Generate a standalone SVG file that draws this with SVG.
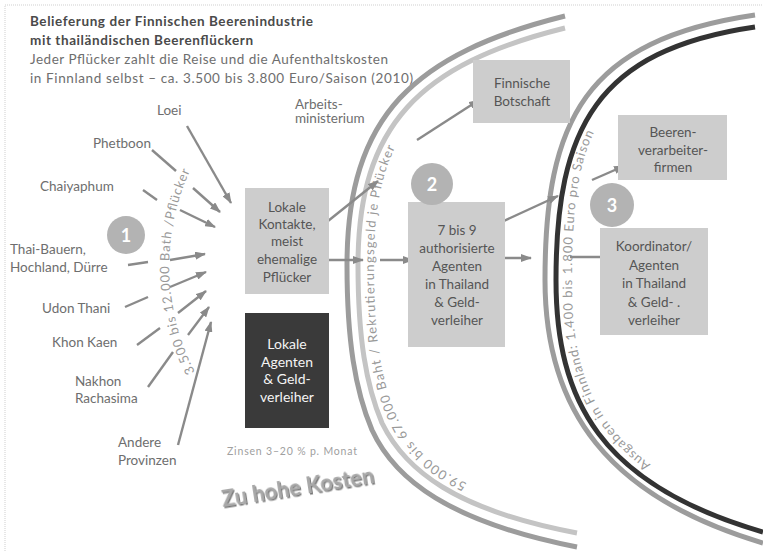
<svg xmlns="http://www.w3.org/2000/svg" width="763" height="555" viewBox="0 0 763 555">
<style>
text{font-family:Lato,"Noto Sans","DejaVu Sans",sans-serif}
.title{font-size:13.5px;font-weight:bold;fill:#4a4a4a}
.sub{font-size:13.5px;fill:#6e6e6e}
.lbl{font-size:13.5px;fill:#6e6e6e}
.box{fill:#cdcdcd}
.dark{fill:#3a3a3a}
.bt{font-size:13.5px;fill:#555;text-anchor:middle}
.wt{font-size:14px;fill:#f4f4f4;text-anchor:middle}
.badge{fill:#b3b3b3}
.bn{font-size:18px;font-weight:bold;fill:#fff;text-anchor:middle}
.arr{stroke:#8a8a8a;stroke-width:2.4;fill:none}
.curv{font-size:13px;fill:#999}
.arcA{stroke:#9c9c9c;stroke-width:5;fill:none}
.arcB{stroke:#c4c4c4;stroke-width:5;fill:none}
.arcK{stroke:#333;stroke-width:5;fill:none}
</style>
<defs>
<marker id="ah" viewBox="0 0 11 8" refX="10" refY="4" markerWidth="11" markerHeight="8" markerUnits="userSpaceOnUse" orient="auto"><path d="M0,0 L11,4 L0,8 z" fill="#8a8a8a"/></marker>
<filter id="sh" x="-10%" y="-30%" width="120%" height="160%"><feDropShadow dx="1" dy="1.5" stdDeviation="0.6" flood-color="#555" flood-opacity="0.8"/></filter>
<path id="tp1" d="M195,372 A230 230 0 0 1 198,155"/>
<path id="tp2" d="M580,517 C460,495 416,459 397,417 C381,380 374,338 374,265 C374,125 424,79.5 569,43.5"/>
<path id="tp3" d="M767,517 C608,471 571,395 572,280 C572,128 599,66 757,43"/>
</defs>
<rect width="763" height="555" fill="#fff"/>
<g id="frame" fill="none" stroke="#cfcfcf" stroke-width="1" stroke-dasharray="1,1">
<path d="M5,551 L5,5 L763,5"/>
</g>
<g id="titles">
<text class="title" x="30" y="26" textLength="283">Belieferung der Finnischen Beerenindustrie</text>
<text class="title" x="30" y="45" textLength="223">mit thailändischen Beerenflückern</text>
<text class="sub" x="30" y="64" textLength="358">Jeder Pflücker zahlt die Reise und die Aufenthaltskosten</text>
<text class="sub" x="30" y="83" textLength="383">in Finnland selbst – ca. 3.500 bis 3.800 Euro/Saison (2010)</text>
</g>
<g id="arcs">
<path class="arcA" d="M565,16 C415,53.5 347,115 347,265 C347,340 355,390 372,430 C395,480 450,522 577,547"/>
<path class="arcB" d="M565,28 C420,64 358,125 358,265 C358,338 366,385 382,423 C405,470 455,510 577,533"/>
<path class="arcA" d="M755,15 C585,40 545,120 545,280 C545,410 608,497 763,543"/>
<path class="arcK" d="M755,27 C597,50 556,128 556,280 C556,400 600,485 763,532"/>
</g>
<g id="curved-labels">
<text class="curv"><textPath href="#tp1" textLength="208">3.500 bis 12.000 Bath /Pflücker</textPath></text>
<text class="curv"><textPath href="#tp2" startOffset="118" textLength="374">59.000 bis 67.000 Baht / Rekrutierungsgeld je Pflücker</textPath></text>
<text class="curv"><textPath href="#tp3" startOffset="128" textLength="360">Ausgaben in Finnland: 1.400 bis 1.800 Euro pro Saison</textPath></text>
</g>
<g id="connectors" class="arr">
<path d="M187,126 L231,203" marker-end="url(#ah)"/>
<path d="M152,150 L176,171"/><path d="M193,188 L220,212" marker-end="url(#ah)"/>
<path d="M143,190 L157,200"/><path d="M180,210 L215,227" marker-end="url(#ah)"/>
<path d="M128,265 L148,262"/><path d="M170,260 L205,254" marker-end="url(#ah)"/>
<path d="M125,307 L148,297"/><path d="M170,287 L206,272" marker-end="url(#ah)"/>
<path d="M137,345 L160,328"/><path d="M178,313 L206,291" marker-end="url(#ah)"/>
<path d="M148,387 L173,352"/><path d="M188,335 L209,307" marker-end="url(#ah)"/>
<path d="M178,445 L211,322" marker-end="url(#ah)"/>
<path d="M323,225 L378,181" marker-end="url(#ah)"/>
<path d="M417,140 L479,100" marker-end="url(#ah)"/>
<path d="M328,260 L363,260" marker-end="url(#ah)"/>
<path d="M380,260 L413,260" marker-end="url(#ah)"/>
<path d="M497,258 L531,258" marker-end="url(#ah)"/>
<path d="M570,257 L611,257" marker-end="url(#ah)"/>
<path d="M495,225 L558,196" marker-end="url(#ah)"/>
<path d="M592,180 L624,166" marker-end="url(#ah)"/>
</g>
<g id="sources">
<text class="lbl" x="157" y="115">Loei</text>
<text class="lbl" x="93" y="148">Phetboon</text>
<text class="lbl" x="40" y="191">Chaiyaphum</text>
<text class="lbl" x="10" y="254">Thai-Bauern,</text>
<text class="lbl" x="10" y="272">Hochland, Dürre</text>
<text class="lbl" x="42" y="313">Udon Thani</text>
<text class="lbl" x="52" y="347">Khon Kaen</text>
<text class="lbl" x="75" y="386">Nakhon</text>
<text class="lbl" x="75" y="403">Rachasima</text>
<text class="lbl" x="118" y="447">Andere</text>
<text class="lbl" x="118" y="465">Provinzen</text>
<text class="lbl" x="295" y="109">Arbeits-</text>
<text class="lbl" x="295" y="123">ministerium</text>
</g>
<g id="badge1"><circle class="badge" cx="126" cy="235" r="19"/><text class="bn" x="126" y="242">1</text></g>
<g id="lokale-kontakte"><rect class="box" x="245" y="188" width="84" height="106"/>
<text class="bt" x="287" y="212">Lokale</text><text class="bt" x="287" y="229">Kontakte,</text><text class="bt" x="287" y="246">meist</text><text class="bt" x="287" y="264">ehemalige</text><text class="bt" x="287" y="282">Pflücker</text></g>
<g id="lokale-agenten"><rect class="dark" x="245" y="313" width="84" height="115"/>
<text class="wt" x="287" y="349">Lokale</text><text class="wt" x="287" y="367">Agenten</text><text class="wt" x="287" y="384">&amp; Geld-</text><text class="wt" x="287" y="402">verleiher</text></g>
<g id="zinsen"><text x="227" y="455" style="font-size:10.5px;fill:#a0a0a0" textLength="130">Zinsen 3–20 % p. Monat</text></g>
<g id="kosten"><text transform="translate(223,507) rotate(-9)" filter="url(#sh)" style="font-size:22px;font-weight:bold;fill:#a8a8a8" textLength="154">Zu hohe Kosten</text></g>
<g id="agenten"><rect class="box" x="408" y="202" width="97" height="145"/>
<text class="bt" x="457" y="235">7 bis 9</text><text class="bt" x="457" y="253">authorisierte</text><text class="bt" x="457" y="271">Agenten</text><text class="bt" x="457" y="289">in Thailand</text><text class="bt" x="457" y="307">&amp; Geld-</text><text class="bt" x="457" y="325">verleiher</text></g>
<g id="badge2"><circle class="badge" cx="432" cy="184" r="21"/><text class="bn" x="432" y="191">2</text></g>
<g id="botschaft"><rect class="box" x="473" y="60" width="97" height="63"/>
<text class="bt" x="522" y="88">Finnische</text><text class="bt" x="522" y="106">Botschaft</text></g>
<g id="beeren"><rect class="box" x="618" y="115" width="109" height="65"/>
<text class="bt" x="673" y="137">Beeren-</text><text class="bt" x="673" y="155">verarbeiter-</text><text class="bt" x="673" y="172">firmen</text></g>
<g id="badge3"><circle class="badge" cx="612" cy="205" r="22"/><text class="bn" x="612" y="212">3</text></g>
<g id="koordinator"><rect class="box" x="600" y="228" width="108" height="107"/>
<text class="bt" x="654" y="251">Koordinator/</text><text class="bt" x="654" y="270">Agenten</text><text class="bt" x="654" y="288">in Thailand</text><text class="bt" x="654" y="307">&amp; Geld- .</text><text class="bt" x="654" y="325">verleiher</text></g>
</svg>
